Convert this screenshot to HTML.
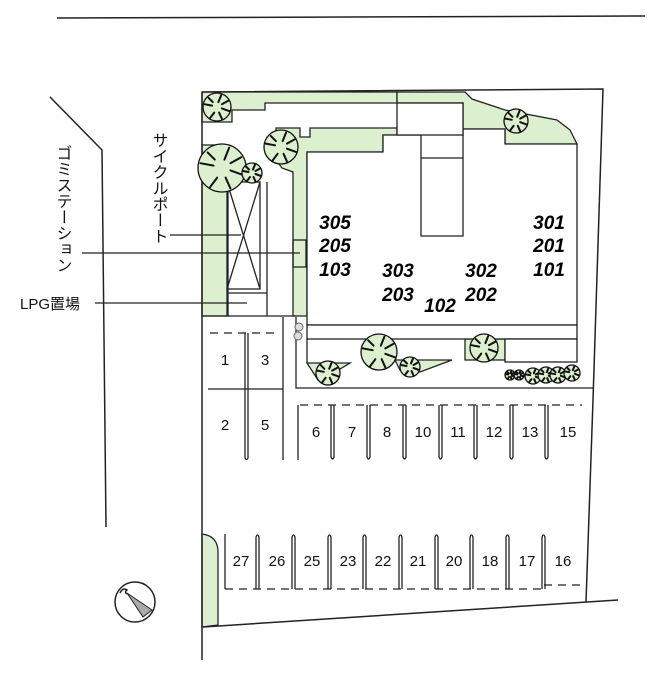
<!DOCTYPE html>
<html><head><meta charset="utf-8"><style>
html,body{margin:0;padding:0;background:#fff;}
svg{display:block;}
.n{font-family:"Liberation Sans",sans-serif;font-weight:bold;font-style:italic;font-size:19px;fill:#000;text-anchor:middle;}
.p{font-family:"Liberation Sans",sans-serif;font-size:15px;fill:#111;text-anchor:middle;}
.j{font-family:"Liberation Sans","Noto Sans CJK JP",sans-serif;font-size:16px;fill:#111;}
.t circle{fill:#dcefcf;stroke:#111;stroke-width:1.3;vector-effect:non-scaling-stroke;}
.t line{stroke:#111;stroke-width:2;stroke-linecap:round;vector-effect:non-scaling-stroke;}
</style></head><body>
<svg width="662" height="680" viewBox="0 0 662 680" xmlns="http://www.w3.org/2000/svg">
<defs>
<g id="tr" class="t">
<circle r="1"/>
<line x1="0.35" y1="0.1" x2="0.9" y2="0.3"/>
<line x1="-0.2" y1="0.4" x2="-0.5" y2="0.8"/>
<line x1="-0.35" y1="-0.1" x2="-0.9" y2="-0.2"/>
<line x1="0.1" y1="-0.35" x2="0.3" y2="-0.85"/>
<line x1="0.15" y1="0.4" x2="0.35" y2="0.85"/>
<line x1="-0.3" y1="-0.35" x2="-0.6" y2="-0.65"/>
<line x1="0.35" y1="-0.2" x2="0.8" y2="-0.45"/>
</g>
</defs>
<line x1="57" y1="18" x2="645" y2="16" stroke="#222" stroke-width="1.5"/>
<polyline points="50,97 102,150 106,527" fill="none" stroke="#222" stroke-width="1.5"/>

<g fill="#dcefcf" stroke="#222" stroke-width="1.3">
<polygon points="202,92 397,92 397,103 265,103 265,110 232,110 232,122 202,122"/>
<polygon points="397,92 465,92 472,99 505,110 557,120 570,130 577,144 505,144 505,129 463,129 463,103 397,103"/>
<polygon points="202,145 228,145 228,316 202,316"/>
<polygon points="276,128 300,128 300,137 310,137 310,128 397,128 397,135 383,135 383,152 307,152 307,316 293,316 293,172 282,168 276,160"/>
<path d="M307,363 L350,363 L335,372 L318,380 Z"/>
<path d="M395,360 L452,360 L420,372 L400,370 Z"/>
<rect x="465" y="339" width="40" height="21"/>
<path d="M202,534 Q218,536 218,552 L218,625 L202,627 Z"/>
</g>

<g fill="none" stroke="#222" stroke-width="1.5">
<polyline points="202,92 603,89 593,400 586,602"/>
<line x1="202" y1="92" x2="202" y2="660"/>
<line x1="203" y1="627" x2="618" y2="600"/>
</g>

<g fill="#fff" stroke="#222" stroke-width="1.3">
<polygon points="307,152 383,152 383,135 421,135 421,236 463,236 463,129 505,129 505,144 577,144 577,325 307,325"/>
<rect x="397" y="103" width="66" height="32"/>
<line x1="421" y1="158" x2="463" y2="158"/>
<rect x="307" y="325" width="270" height="14"/>
<rect x="505" y="339" width="72" height="23"/>
</g>
<g fill="none" stroke="#222" stroke-width="1.3">
<polyline points="307,339 307,363"/>
<polyline points="296,317 296,388 593,388"/>
<rect x="227" y="182" width="33" height="107"/>
<line x1="227" y1="182" x2="260" y2="289"/>
<line x1="260" y1="182" x2="227" y2="289"/>
<line x1="227" y1="293" x2="267" y2="293"/>
<line x1="267" y1="182" x2="267" y2="316"/>
<line x1="227" y1="289" x2="227" y2="316"/>
<rect x="293" y="240" width="13" height="27"/>
<line x1="202" y1="316" x2="296" y2="316"/>
</g>
<g stroke="#222" stroke-width="1.3">
<line x1="170" y1="235" x2="241" y2="235"/>
<line x1="82" y1="253" x2="300" y2="253"/>
<line x1="95" y1="303" x2="247" y2="303"/>
</g>

<use href="#tr" transform="translate(217,107) scale(14)"/>
<use href="#tr" transform="translate(222,168) scale(24)"/>
<use href="#tr" transform="translate(252,173) scale(10)"/>
<use href="#tr" transform="translate(281,147) scale(17)"/>
<use href="#tr" transform="translate(516,121) scale(12)"/>
<use href="#tr" transform="translate(328,373) scale(12)"/>
<use href="#tr" transform="translate(379,352) scale(18)"/>
<use href="#tr" transform="translate(410,367) scale(10)"/>
<use href="#tr" transform="translate(484,348) scale(14)"/>
<use href="#tr" transform="translate(510,375) scale(5)"/>
<use href="#tr" transform="translate(519,375) scale(5)"/>
<use href="#tr" transform="translate(533,376) scale(8)"/>
<use href="#tr" transform="translate(546,375) scale(8)"/>
<use href="#tr" transform="translate(558,375) scale(8)"/>
<use href="#tr" transform="translate(572,373) scale(8)"/>
<circle cx="299" cy="327" r="4" fill="#ddd" stroke="#666"/>
<circle cx="298" cy="336" r="4" fill="#ddd" stroke="#666"/>

<g stroke="#222" stroke-width="1.3" fill="none">
<line x1="210" y1="333" x2="280" y2="333" stroke-dasharray="8,6"/>
<line x1="208" y1="389" x2="283" y2="389"/>
<line x1="283" y1="317" x2="283" y2="460"/>
<path d="M245,333 L245,458 Q246.5,461 248,458 L248,333"/>
<line x1="300" y1="405" x2="582" y2="405" stroke-dasharray="8,6"/>
<line x1="298" y1="405" x2="298" y2="460"/>
<path d="M331,405 L331,457 Q332.5,461 334,457 L334,405"/>
<path d="M367,405 L367,457 Q368.5,461 370,457 L370,405"/>
<path d="M403,405 L403,457 Q404.5,461 406,457 L406,405"/>
<path d="M439,405 L439,457 Q440.5,461 442,457 L442,405"/>
<path d="M474,405 L474,457 Q475.5,461 477,457 L477,405"/>
<path d="M510,405 L510,457 Q511.5,461 513,457 L513,405"/>
<path d="M545,405 L545,457 Q546.5,461 548,457 L548,405"/>
<line x1="225" y1="534" x2="225" y2="589"/>
<line x1="225" y1="589" x2="544" y2="589" stroke-dasharray="8,6"/>
<line x1="544" y1="585" x2="580" y2="585" stroke-dasharray="8,6"/>
<path d="M256,589 L256,537 Q257.5,533 259,537 L259,589"/>
<path d="M292,589 L292,537 Q293.5,533 295,537 L295,589"/>
<path d="M328,589 L328,537 Q329.5,533 331,537 L331,589"/>
<path d="M363,589 L363,537 Q364.5,533 366,537 L366,589"/>
<path d="M399,589 L399,537 Q400.5,533 402,537 L402,589"/>
<path d="M435,589 L435,537 Q436.5,533 438,537 L438,589"/>
<path d="M470,589 L470,537 Q471.5,533 473,537 L473,589"/>
<path d="M506,589 L506,537 Q507.5,533 509,537 L509,589"/>
<path d="M542,589 L542,537 Q543.5,533 545,537 L545,589"/>
</g>
<g class="p">
<text x="225" y="365">1</text><text x="265" y="365">3</text>
<text x="225" y="430">2</text><text x="265" y="430">5</text>
<text x="316" y="437">6</text><text x="352" y="437">7</text><text x="387" y="437">8</text>
<text x="423" y="437">10</text><text x="458" y="437">11</text><text x="494" y="437">12</text>
<text x="530" y="437">13</text><text x="568" y="437">15</text>
<text x="241" y="566">27</text><text x="277" y="566">26</text><text x="312" y="566">25</text>
<text x="348" y="566">23</text><text x="383" y="566">22</text><text x="418" y="566">21</text>
<text x="454" y="566">20</text><text x="490" y="566">18</text><text x="527" y="566">17</text>
<text x="563" y="566">16</text>
</g>

<g class="n">
<text x="335" y="229">305</text><text x="335" y="252">205</text><text x="335" y="276">103</text>
<text x="398" y="277">303</text><text x="398" y="301">203</text>
<text x="440" y="312">102</text>
<text x="481" y="277">302</text><text x="481" y="301">202</text>
<text x="549" y="229">301</text><text x="549" y="252">201</text><text x="549" y="276">101</text>
</g>

<text class="j" x="62" y="145" style="writing-mode:vertical-rl" writing-mode="tb">ゴミステーション</text>
<text class="j" x="158" y="132" style="writing-mode:vertical-rl" writing-mode="tb">サイクルポート</text>
<text class="j" x="20" y="309" style="font-size:15px">LPG置場</text>

<circle cx="135" cy="602" r="20" fill="#fff" stroke="#222" stroke-width="1.5"/>
<polygon points="127,593 152,610 143,617" fill="#aaa" stroke="#222" stroke-width="1"/>
<path d="M120,593 q3,-6 7,-3 q-3,2 0,4" fill="none" stroke="#222" stroke-width="1.5"/>
</svg>
</body></html>
